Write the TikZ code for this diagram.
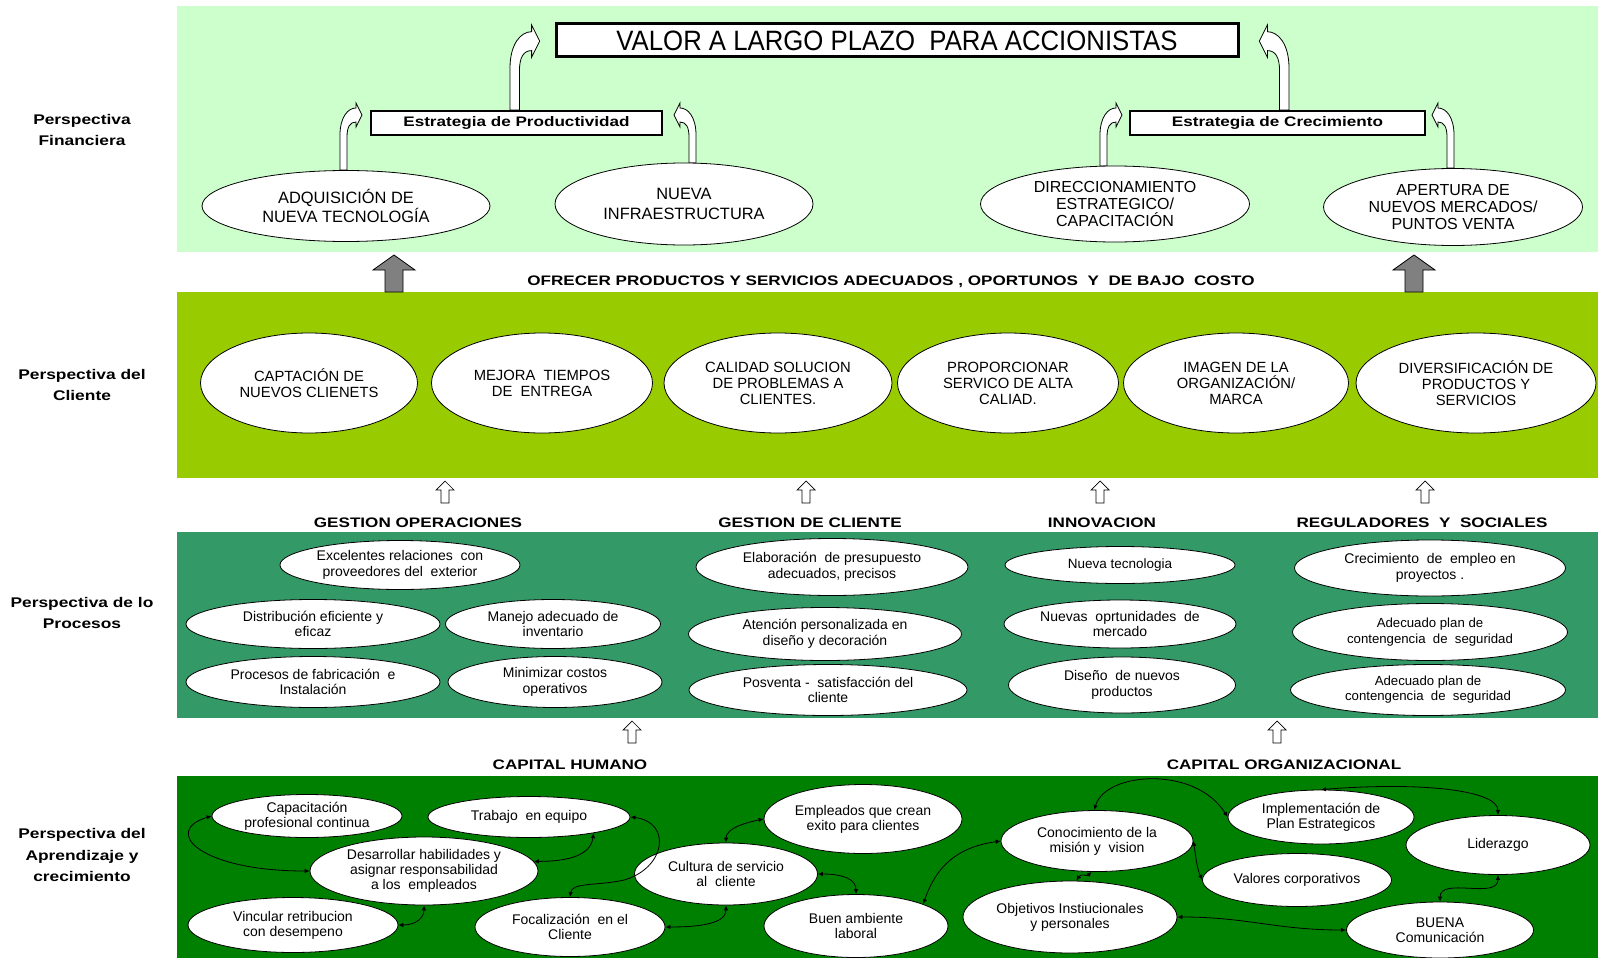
\documentclass[tikz,border=0pt]{standalone}
\usepackage{fontspec}
\setmainfont{Liberation Sans}
\newfontfamily\widebold{Liberation Sans}[FakeStretch=1.24]
\newfontfamily\narrowsans{Liberation Sans}[FakeStretch=0.92]
\usetikzlibrary{shapes.geometric,arrows.meta}

\definecolor{finbg}{HTML}{CCFFCC}
\definecolor{custbg}{HTML}{99CC00}
\definecolor{procbg}{HTML}{339966}
\definecolor{learnbg}{HTML}{008000}
\definecolor{arrowgray}{HTML}{808080}

\newcommand{\fs}[2]{\fontsize{#1}{#2}\selectfont}

\tikzset{
  oval/.style={ellipse, draw=black, fill=white, line width=0.8pt, inner sep=0pt, align=center},
  finoval/.style={oval, font=\fs{16.4}{19.5}},
  custoval/.style={oval, font=\fs{14.8}{16}, minimum height=100pt},
  procoval/.style={oval, font=\fs{14}{15.5}},
  learnoval/.style={oval, font=\fs{14}{15}},
  persp/.style={font=\widebold\bfseries\fs{14}{21.5}, align=center},
  section/.style={font=\widebold\bfseries\fs{13.8}{16}},
  stratbox/.style={draw=black, line width=2.2pt, fill=white, inner sep=0pt, font=\widebold\bfseries\fs{13.8}{15}},
  biarrow/.style={{Latex[length=5pt,width=4.5pt]}-{Latex[length=5pt,width=4.5pt]}, line width=0.8pt},
  pics/bentarrow/.style={code={
    \draw[line width=0.8pt, fill=white] (0,0) -- (0,{#1-20})
      .. controls (0,{#1-2}) and (8,{#1+7}) .. (16,{#1+7}) -- (16,{#1+12}) -- (22,#1)
      -- (16,{#1-12}) -- (16,{#1-7}) .. controls (10,{#1-7}) and (7,{#1-12}) .. (7,{#1-22})
      -- (7,0) -- cycle;
  }},
  pics/uparrow/.style={code={
    \draw[line width=0.7pt, fill=white] (0,0) -- (9,-9) -- (4,-9) -- (4,-22) -- (-4,-22) -- (-4,-9) -- (-9,-9) -- cycle;
  }},
  pics/grayarrow/.style={code={
    \draw[line width=0.8pt, fill=arrowgray] (0,0) -- (21,-15) -- (9,-15) -- (9,-37) -- (-9,-37) -- (-9,-15) -- (-21,-15) -- cycle;
  }},
}

\begin{document}
\begin{tikzpicture}[x=1pt,y=1pt]
\useasboundingbox (0,0) rectangle (1598,-958);
\fill[white] (0,0) rectangle (1598,-958);
% bandas
\fill[finbg] (177,-6) rectangle (1598,-252);
\fill[custbg] (177,-292) rectangle (1598,-478);
\fill[procbg] (177,-532) rectangle (1598,-718);
\fill[learnbg] (177,-776) rectangle (1598,-958);

% perspectivas
\node[persp] (pfin) at (82,-130) {Perspectiva\\Financiera};
\node[persp] (pcli) at (82,-385) {Perspectiva del\\Cliente};
\node[persp] (ppro) at (82,-613) {Perspectiva de lo\\Procesos};
\node[persp] (papr) at (82,-855) {Perspectiva del\\Aprendizaje y\\crecimiento};

% financiera
\pic[scale=1.35] at (510,-110) {bentarrow=51};
\pic[xscale=-1.35,yscale=1.35] at (1289,-110) {bentarrow=51};
\pic at (340,-170) {bentarrow=55};
\pic[xscale=-1] at (696,-163) {bentarrow=48};
\pic at (1100,-166) {bentarrow=51};
\pic[xscale=-1] at (1454,-168) {bentarrow=53};

\node[stratbox, line width=3pt, minimum width=682pt, minimum height=33pt, font=\narrowsans\fs{28}{30}] (valor) at (897,-40.5) {VALOR A LARGO PLAZO \ PARA ACCIONISTAS};
\node[stratbox, minimum width=291pt, minimum height=24pt] (prod) at (516.5,-123) {Estrategia de Productividad};
\node[stratbox, minimum width=295pt, minimum height=24pt] (crec) at (1277.5,-123) {Estrategia de Crecimiento};

\node[finoval, minimum width=288pt, minimum height=71pt] (adq) at (346,-206) {ADQUISICIÓN DE\\NUEVA TECNOLOGÍA};
\node[finoval, minimum width=258pt, minimum height=82pt] (nue) at (684,-204) {NUEVA\\INFRAESTRUCTURA};
\node[finoval, minimum width=269pt, minimum height=76pt, font=\fs{16}{17}] (dir) at (1115,-204) {DIRECCIONAMIENTO\\ESTRATEGICO/\\CAPACITACIÓN};
\node[finoval, minimum width=259pt, minimum height=77pt, font=\fs{16}{17}] (ape) at (1453,-207) {APERTURA DE\\NUEVOS MERCADOS/\\PUNTOS VENTA};

% cliente
\pic at (394,-255) {grayarrow};
\pic at (1414,-255) {grayarrow};
\node[section] (ofrecer) at (891,-282) {OFRECER PRODUCTOS Y SERVICIOS ADECUADOS , OPORTUNOS \ Y \ DE BAJO \ COSTO};

\node[custoval, minimum width=217pt] (capt) at (309,-383) {CAPTACIÓN DE\\NUEVOS CLIENETS};
\node[custoval, minimum width=221pt] (mej) at (542,-383) {MEJORA \ TIEMPOS\\DE \ ENTREGA};
\node[custoval, minimum width=228pt] (cal) at (778,-383) {CALIDAD SOLUCION\\DE PROBLEMAS A\\CLIENTES.};
\node[custoval, minimum width=221pt] (prop) at (1008,-383) {PROPORCIONAR\\SERVICO DE ALTA\\CALIAD.};
\node[custoval, minimum width=225pt] (ima) at (1236,-383) {IMAGEN DE LA\\ORGANIZACIÓN/\\MARCA};
\node[custoval, minimum width=240pt] (div) at (1476,-383) {DIVERSIFICACIÓN DE\\PRODUCTOS Y\\SERVICIOS};

% procesos
\foreach \xx in {445,806,1100,1425} {\pic at (\xx,-481) {uparrow};}
\node[section] (gop) at (418,-523) {GESTION OPERACIONES};
\node[section] (gcl) at (810,-523) {GESTION DE CLIENTE};
\node[section] (inn) at (1102,-523) {INNOVACION};
\node[section] (reg) at (1422,-523) {REGULADORES \ Y \ SOCIALES};

\node[procoval, minimum width=240pt, minimum height=49pt] (exc) at (400,-565) {Excelentes relaciones \ con\\proveedores del \ exterior};
\node[procoval, minimum width=254pt, minimum height=49pt] (dis) at (313,-624) {Distribución eficiente y\\eficaz};
\node[procoval, minimum width=215pt, minimum height=49pt] (man) at (553,-624) {Manejo adecuado de\\inventario};
\node[procoval, minimum width=254pt, minimum height=51pt] (fab) at (313,-682) {Procesos de fabricación \ e\\Instalación};
\node[procoval, minimum width=214pt, minimum height=51pt] (min) at (555,-682) {Minimizar costos\\operativos};

\node[procoval, minimum width=272pt, minimum height=57pt] (ela) at (832,-567) {Elaboración \ de presupuesto\\adecuados, precisos};
\node[procoval, minimum width=273pt, minimum height=53pt] (ate) at (825,-634) {Atención personalizada en\\diseño y decoración};
\node[procoval, minimum width=278pt, minimum height=51pt] (pos) at (828,-690) {Posventa - \ satisfacción del\\cliente};

\node[procoval, minimum width=230pt, minimum height=37pt, font=\fs{13.5}{15}] (ntec) at (1120,-565) {Nueva tecnologia};
\node[procoval, minimum width=232pt, minimum height=48pt] (nop) at (1120,-624) {Nuevas \ oprtunidades \ de\\mercado};
\node[procoval, minimum width=227pt, minimum height=56pt] (dnp) at (1122,-685) {Diseño \ de nuevos\\productos};

\node[procoval, minimum width=271pt, minimum height=56pt] (cre) at (1430,-568) {Crecimiento \ de \ empleo en\\proyectos .};
\node[procoval, minimum width=275pt, minimum height=57pt, font=\fs{13.2}{15.5}] (ade) at (1430,-632) {Adecuado plan de\\contengencia \ de \ seguridad};
\node[procoval, minimum width=275pt, minimum height=51pt, font=\fs{13.2}{15}] (adb) at (1428,-690) {Adecuado plan de\\contengencia \ de \ seguridad};

% aprendizaje
\foreach \xx in {632,1277} {\pic at (\xx,-721) {uparrow};}
\node[section] (chum) at (570,-765) {CAPITAL HUMANO};
\node[section] (corg) at (1284,-765) {CAPITAL ORGANIZACIONAL};

\node[learnoval, minimum width=190pt, minimum height=43pt] (cap) at (307,-816) {Capacitación\\profesional continua};
\node[learnoval, minimum width=202pt, minimum height=41pt] (trab) at (529,-817) {Trabajo \ en equipo};
\node[learnoval, minimum width=228pt, minimum height=68pt] (des) at (424,-871) {Desarrollar habilidades y\\asignar responsabilidad\\a los \ empleados};
\node[learnoval, minimum width=210pt, minimum height=55pt] (vinc) at (293,-925) {Vincular retribucion\\con desempeno};
\node[learnoval, minimum width=190pt, minimum height=59pt] (foc) at (570,-927) {Focalización \ en el\\Cliente};
\node[learnoval, minimum width=183pt, minimum height=62pt] (cul) at (726,-874) {Cultura de servicio\\al \ cliente};
\node[learnoval, minimum width=198pt, minimum height=69pt] (emp) at (863,-819) {Empleados que crean\\exito para clientes};
\node[learnoval, minimum width=184pt, minimum height=63pt] (buen) at (856,-926) {Buen ambiente\\laboral};
\node[learnoval, minimum width=192pt, minimum height=61pt] (con) at (1097,-841) {Conocimiento de la\\misión y \ vision};
\node[learnoval, minimum width=186pt, minimum height=54pt] (imp) at (1321,-817) {Implementación de\\Plan Estrategicos};
\node[learnoval, minimum width=184pt, minimum height=59pt] (lid) at (1498,-845) {Liderazgo};
\node[learnoval, minimum width=189pt, minimum height=53pt] (val) at (1297,-880) {Valores corporativos};
\node[learnoval, minimum width=214pt, minimum height=72pt] (obj) at (1070,-917) {Objetivos Instiucionales\\y personales};
\node[learnoval, minimum width=187pt, minimum height=56pt] (comu) at (1440,-930) {BUENA\\Comunicación};

\draw[biarrow] (cap.west) .. controls +(-50,-15) and +(-110,0) .. (des.west);
\draw[biarrow] (trab.-14) .. controls +(-3,-22) and +(35,0) .. (des.5);
\draw[biarrow] (des.south) .. controls +(0,-12) and +(18,0) .. (vinc.east);
\draw[biarrow] (trab.east) .. controls (672,-822) and (666,-868) .. (624,-880) .. controls (598,-886) and (572,-882) .. (foc.north);
\draw[biarrow] (foc.east) .. controls +(35,0) and +(0,-18) .. (cul.south);
\draw[biarrow] (cul.north) .. controls +(0,15) and +(-15,-3) .. (emp.west);
\draw[biarrow] (cul.east) .. controls +(25,0) and +(0,15) .. (buen.north);
\draw[biarrow] (buen.18) .. controls +(15,45) and +(-35,-5) .. (con.west);
\draw[biarrow] (obj.80) .. controls +(5,8) and +(-5,-5) .. (con.-100);
\draw[biarrow] (con.95) .. controls (1105,-772) and (1195,-765) .. (imp.west);
\draw[biarrow] (con.east) .. controls +(3,-20) and +(-5,12) .. (val.west);
\draw[biarrow] (imp.north) .. controls +(100,8) and +(0,25) .. (lid.north);
\draw[biarrow] (comu.north) .. controls +(0,25) and +(0,-25) .. (lid.south);
\draw[biarrow] (obj.east) .. controls +(70,0) and +(-70,0) .. (comu.west);
\end{tikzpicture}
\end{document}
